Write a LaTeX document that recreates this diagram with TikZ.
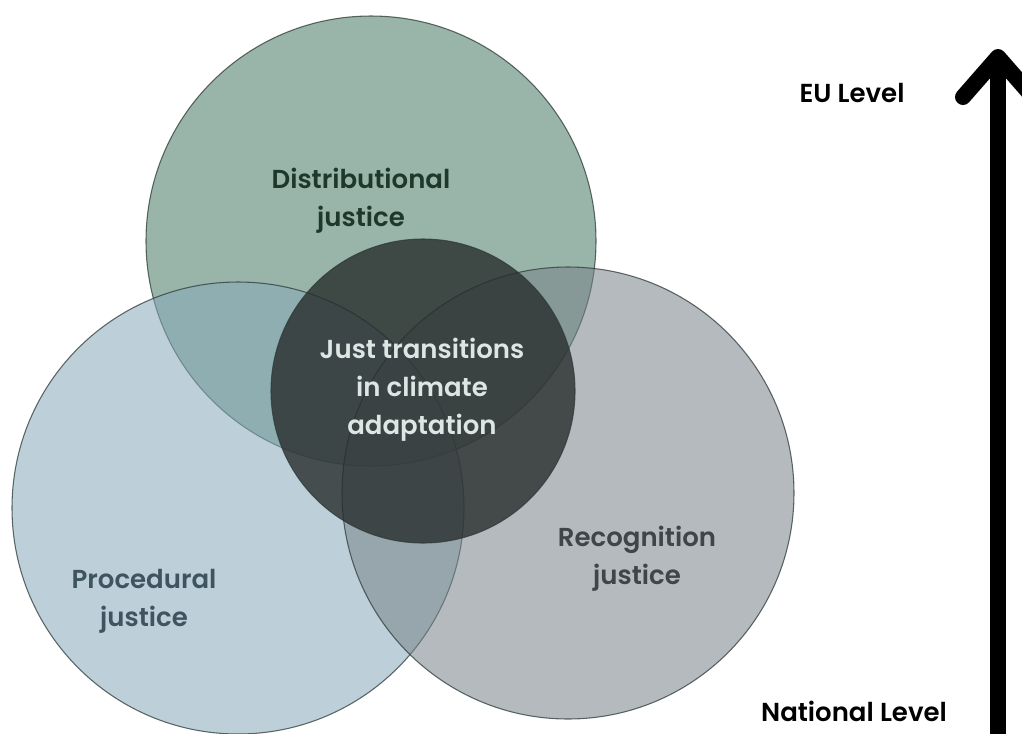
\documentclass[tikz,border=0pt]{standalone}
\usepackage{fontspec}
\setmainfont{Poppins}[UprightFont=* Medium, BoldFont=* SemiBold]
\begin{document}
\begin{tikzpicture}[x=0.75pt,y=-0.75pt,
  ring/.style={draw=#1, line width=0.8pt, draw opacity=0.75},
  lbl/.style={font=\bfseries\fontsize{19.5}{28.5}\selectfont, align=center, inner sep=0pt},
  lvl/.style={font=\bfseries\fontsize{19.5}{22}\selectfont, text=black, inner sep=0pt}]
\definecolor{distC}{RGB}{71,120,97}
\definecolor{procC}{RGB}{135,170,186}
\definecolor{recC}{RGB}{120,131,137}
\definecolor{coreC}{RGB}{40,45,45}
\definecolor{ringC}{RGB}{45,58,56}
\definecolor{distT}{RGB}{30,56,44}
\definecolor{procT}{RGB}{62,84,95}
\definecolor{recT}{RGB}{62,70,72}
\definecolor{coreT}{RGB}{222,230,227}
\useasboundingbox (0,0) rectangle (1022,733);
\clip (0,0) rectangle (1022,733);
\fill[white] (0,0) rectangle (1022,733);
% three overlapping justice circles
\path[fill=distC, fill opacity=0.55, ring=ringC] (371,241) circle[radius=225];
\path[fill=procC, fill opacity=0.55, ring=ringC] (238,508) circle[radius=226];
\path[fill=recC, fill opacity=0.55, ring=ringC] (568,493) circle[radius=226];
% the shared core
\path[fill=coreC, fill opacity=0.8, ring=ringC] (423,391) circle[radius=152];
% labels
\node[lbl, text=distT] (dist) at (361,201) {Distributional\\justice};
\node[lbl, text=coreT] (core) at (422,390) {Just transitions\\in climate\\adaptation};
\node[lbl, text=recT] (rec) at (637,559) {Recognition\\justice};
\node[lbl, text=procT] (proc) at (144,601) {Procedural\\justice};
% vertical level arrow
\node[lvl] (eu) at (852,93) {EU Level};
\node[lvl, anchor=base, text depth=0pt] (nat) at (854,721) {National Level};
\coordinate (top) at (998,57);
\coordinate (bot) at (998,760);
\draw[line width=12pt] (bot) -- ([yshift=-6pt]top);
\draw[line width=12pt, line cap=round, line join=round]
  ([shift={(-35,40)}]top) -- (top) -- ([shift={(35,40)}]top);
\end{tikzpicture}
\end{document}
